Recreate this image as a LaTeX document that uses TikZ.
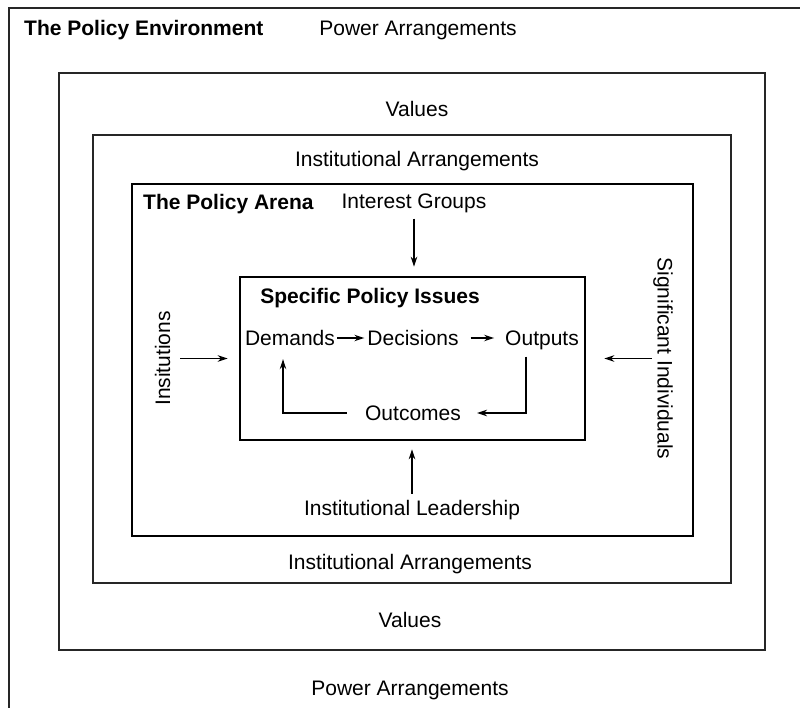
\documentclass[tikz,border=0pt]{standalone}
\usepackage{fontspec}
\setmainfont{Liberation Sans}
\usetikzlibrary{arrows.meta,positioning}

\begin{document}
\begin{tikzpicture}[x=1pt,y=-1pt,
	lbl/.style={inner sep=0pt,text height=15pt,text depth=0pt,font=\fontsize{21}{25}\selectfont},
	blbl/.style={lbl,font=\fontsize{21}{25}\selectfont\bfseries},
	thinbox/.style={draw=black!85,line width=1.3pt},
	thickbox/.style={draw,line width=2.6pt,inner sep=0pt},
	flow/.style={-{Stealth[length=10pt,width=6.5pt]},line width=1.1pt}]
	\useasboundingbox (0,0) rectangle (800,708);
	\draw[thinbox] (9,720) |- (810,8);
	\draw[thinbox] (59,73) rectangle (765,650);
	\draw[thinbox] (93,135) rectangle (731,583);
	\node[thickbox,minimum width=561pt,minimum height=352pt] (arenabox) at (412.5,360) {};
	\node[thickbox,minimum width=345pt,minimum height=163pt] (specbox) at (412.5,358.5) {};
	\node[blbl,anchor=west] (env) at (24,28) {The Policy Environment};
	\node[lbl] (powtop) at (418,28) {Power Arrangements};
	\node[lbl] (valtop) at (417,109) {Values};
	\node[lbl] (insttop) at (417,159) {Institutional Arrangements};
	\node[blbl,anchor=west] (arena) at (143,202) {The Policy Arena};
	\node[lbl] (ig) at (414,201) {Interest Groups};
	\node[blbl] (spec) at (370,296) {Specific Policy Issues};
	\node[lbl] (dem) at (290,338) {Demands};
	\node[lbl] (dec) at (413,338) {Decisions};
	\node[lbl] (out) at (542,338) {Outputs};
	\node[lbl] (outc) at (413,413) {Outcomes};
	\node[lbl,rotate=90] (insts) at (162.5,358.5) {Insitutions};
	\node[lbl,rotate=-90] (sig) at (665,358.5) {Significant Individuals};
	\node[lbl] (lead) at (412,508) {Institutional Leadership};
	\node[lbl] (instbot) at (410,562) {Institutional Arrangements};
	\node[lbl] (valbot) at (410,620) {Values};
	\node[lbl] (powbot) at (410,688) {Power Arrangements};
	\draw[flow,shorten <=10pt,shorten >=9pt] (ig.south) -- (ig.south |- specbox.north);
	\draw[flow,shorten <=10pt,shorten >=11pt] (insts.south) -- (insts.south -| specbox.west);
	\draw[flow,shorten <=5.5pt,shorten >=18pt] (sig.south) -- (sig.south -| specbox.east);
	\draw[flow,shorten <=6.5pt,shorten >=8pt] (lead.north) -- (lead.north |- specbox.south);
	\draw[flow,shorten <=2pt,shorten >=3pt] (dem) -- (dec);
	\draw[flow,shorten <=12pt,shorten >=11pt] (dec) -- (out);
	\draw[flow,shorten <=11pt,shorten >=16pt] ([xshift=-16pt]out.south) |- (outc.east);
	\draw[flow,shorten <=18pt,shorten >=13.5pt] (outc.west) -| ([xshift=-7pt]dem.south);
\end{tikzpicture}
\end{document}
